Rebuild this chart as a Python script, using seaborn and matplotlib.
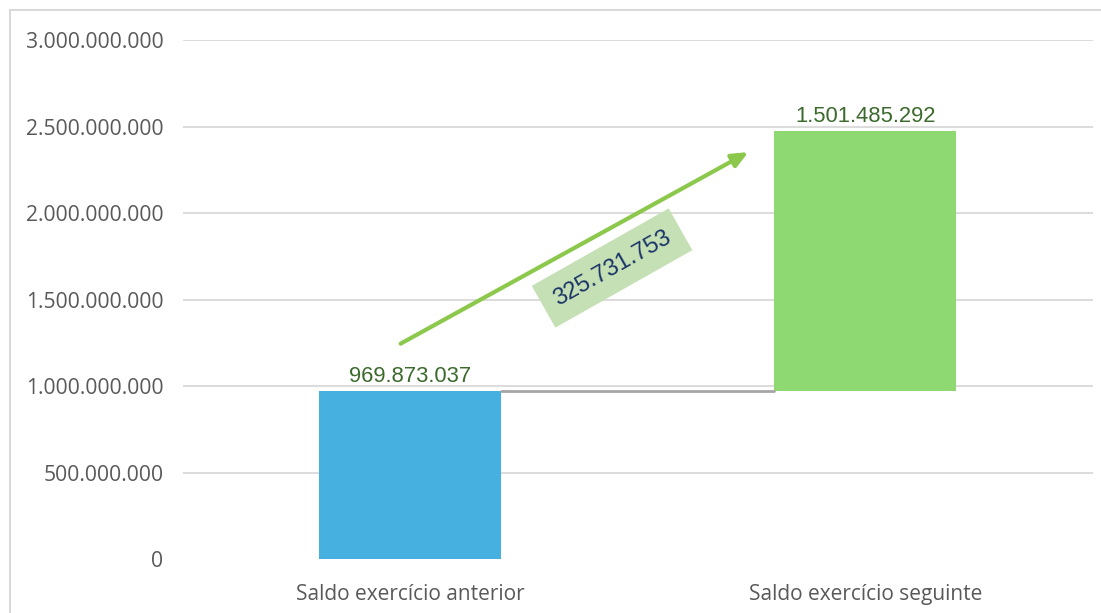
import numpy as np
import pandas as pd
import matplotlib
matplotlib.use("Agg")
import matplotlib.pyplot as plt
from matplotlib.patches import Rectangle
import seaborn as sns

# ── Data ──────────────────────────────────────────────
categories = ["Saldo exercício anterior", "Saldo exercício seguinte"]
bar_bottoms = [0, 969873037]
bar_heights = [969873037, 1501485292]
bar_labels = ["969.873.037", "1.501.485.292"]
bar_colors = ["#46B0E0", "#8FD973"]
arrow_label = "325.731.753"
yticks = [0, 500000000, 1000000000, 1500000000, 2000000000, 2500000000, 3000000000]


def fmt_pt(v):
    return f"{int(v):,}".replace(",", ".")


sns.set_theme(style="white")
plt.rcParams["font.family"] = ["Open Sans", "DejaVu Sans"]

fig = plt.figure(figsize=(11.01, 6.13), dpi=100)
ax = fig.add_axes([0.1662, 0.0881, 0.8265, 0.8466])

# outer chart border
fig.patches.append(Rectangle((10 / 1101, -0.1), 1.2, 1 - 10 / 613 + 0.1,
                             transform=fig.transFigure, fill=False,
                             edgecolor="#D9D9D9", linewidth=1.5, zorder=0))

df = pd.DataFrame({"cat": categories, "val": bar_heights})
sns.barplot(data=df, x="cat", y="val", hue="cat", palette=bar_colors,
            width=0.4, legend=False, ax=ax, zorder=3, saturation=1)

# float the second bar (waterfall)
for patch, b, h in zip(ax.patches, bar_bottoms, bar_heights):
    patch.set_y(b)
    patch.set_height(h)
    patch.set_edgecolor("none")

# value labels
for i, (b, h, lab) in enumerate(zip(bar_bottoms, bar_heights, bar_labels)):
    ax.annotate(lab, (i, b + h), xytext=(0, 3), textcoords="offset points",
                ha="center", va="bottom", fontsize=15.8, color="#3B6A2C",
                family="Liberation Sans")

# connector between bars
ax.plot([0.2, 0.8], [bar_heights[0], bar_heights[0]], color="#A6A6A6",
        linewidth=2, zorder=4)

# arrow with the variation label
ax.annotate("", xy=(0.748, 2.36e9), xytext=(-0.027, 1.237e9),
            arrowprops=dict(arrowstyle="-|>,head_length=0.8,head_width=0.35",
                            color="#8CC84B", linewidth=3), zorder=5)
ax.text(0.443, 1.682e9, arrow_label, rotation=29.5, rotation_mode="anchor",
        ha="center", va="center", fontsize=17, color="#1B3468",
        family="Liberation Sans", zorder=6,
        bbox=dict(boxstyle="square,pad=0.55", facecolor="#C5E0B4",
                  edgecolor="none"))

ax.set_xlim(-0.5, 1.5)
ax.set_ylim(0, 3e9)
ax.set_yticks(yticks)
ax.set_yticklabels([fmt_pt(v) for v in yticks])
ax.yaxis.grid(True, color="#D9D9D9", linewidth=1.3)
ax.yaxis.get_gridlines()[0].set_visible(False)
ax.set_axisbelow(True)
for s in ax.spines.values():
    s.set_visible(False)
ax.set_xlabel("")
ax.set_ylabel("")
ax.tick_params(axis="y", labelsize=15.2, labelcolor="#595959", length=0, pad=14)
ax.tick_params(axis="x", labelsize=15, labelcolor="#595959", length=0, pad=18)

fig.savefig("out.png", dpi=100)
